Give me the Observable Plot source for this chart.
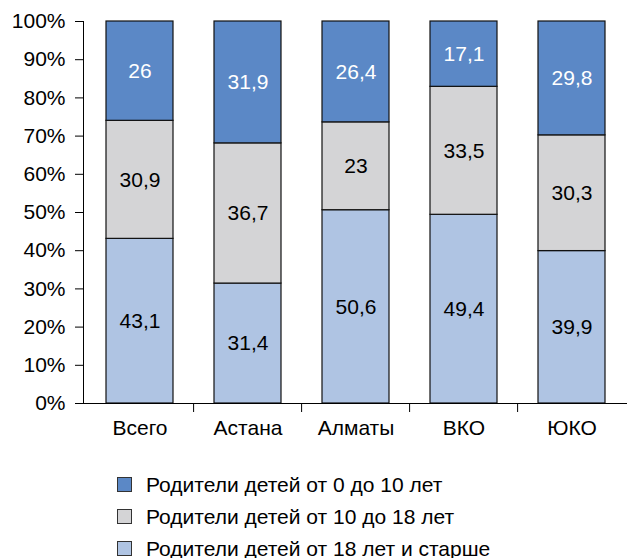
<!DOCTYPE html>
<html>
<head>
<meta charset="utf-8">
<script src="https://cdn.jsdelivr.net/npm/d3@7"></script>
<script src="https://cdn.jsdelivr.net/npm/@observablehq/plot@0.6"></script>
<style>
  body { margin: 0; background: #fff; font-family: "Liberation Sans", Arial, sans-serif; }
  #legend { position: relative; width: 627px; height: 103px; }
  .row { position: absolute; left: 117px; display: flex; align-items: center; font-size: 21px; color: #000; height: 21px; }
  .sw { width: 13px; height: 13px; border: 1px solid #333; margin-right: 14px; }
</style>
</head>
<body>
<div id="chart"></div>
<div id="legend"></div>
<script>
const categories = ["Всего", "Астана", "Алматы", "ВКО", "ЮКО"];
const seriesNames = [
  "Родители детей от 18 лет и старше",
  "Родители детей от 10 до 18 лет",
  "Родители детей от 0 до 10 лет"
];
const seriesColors = ["#AFC4E3", "#D4D4D6", "#5B88C6"];
const values18plus = [43.1, 31.4, 50.6, 49.4, 39.9];
const values10to18 = [30.9, 36.7, 23, 33.5, 30.3];
const values0to10 = [26, 31.9, 26.4, 17.1, 29.8];
const yTicks = [0, 10, 20, 30, 40, 50, 60, 70, 80, 90, 100];

const seriesValues = [values18plus, values10to18, values0to10];
const data = [];
seriesNames.forEach((s, si) => {
  categories.forEach((c, ci) => {
    data.push({category: c, series: s, value: seriesValues[si][ci]});
  });
});

const W = 627, H = 455, ML = 83, MR = 0, MT = 21, MB = 52;
const pIn = 0.38, pOut = 0.19;
const step = (W - ML - MR) / (categories.length - pIn + 2 * pOut);
const fmt = v => String(v).replace(".", ",");

const chart = Plot.plot({
  width: W,
  height: H,
  marginLeft: ML,
  marginRight: MR,
  marginTop: MT,
  marginBottom: MB,
  style: {fontFamily: "'Liberation Sans', Arial, sans-serif", fontSize: "21px", color: "#000", background: "#fff"},
  x: {domain: categories, paddingInner: pIn, paddingOuter: pOut, label: null},
  y: {domain: [0, 100], label: null},
  color: {domain: seriesNames, range: seriesColors},
  marks: [
    Plot.barY(data, Plot.stackY({x: "category", y: "value", fill: "series", stroke: "#111", strokeWidth: 1.2, order: null})),
    Plot.text(data, Plot.stackY({
      x: "category", y: "value", z: "series", order: null,
      text: d => fmt(d.value),
      fill: d => d.series === seriesNames[2] ? "#ffffff" : "#000000",
      fontSize: 21
    })),
    Plot.frame({anchor: "left", stroke: "#000"}),
    Plot.frame({anchor: "bottom", stroke: "#000"}),
    Plot.axisY(yTicks, {tickSize: 8, tickPadding: 10, tickFormat: d => d + "%", fontSize: 21, stroke: "#000"}),
    Plot.axisX(categories.slice(1), {tickSize: 9, tickFormat: () => "", dx: -step / 2, stroke: "#000"}),
    Plot.axisX(categories, {tickSize: 0, tickPadding: 17, fontSize: 21})
  ]
});
document.getElementById("chart").appendChild(chart);

const legend = document.getElementById("legend");
const order = [2, 1, 0];
const tops = [19, 51, 83];
order.forEach((si, i) => {
  const row = document.createElement("div");
  row.className = "row";
  row.style.top = tops[i] + "px";
  const sw = document.createElement("div");
  sw.className = "sw";
  sw.style.background = seriesColors[si];
  const t = document.createElement("span");
  t.textContent = seriesNames[si];
  row.appendChild(sw);
  row.appendChild(t);
  legend.appendChild(row);
});
</script>
</body>
</html>
